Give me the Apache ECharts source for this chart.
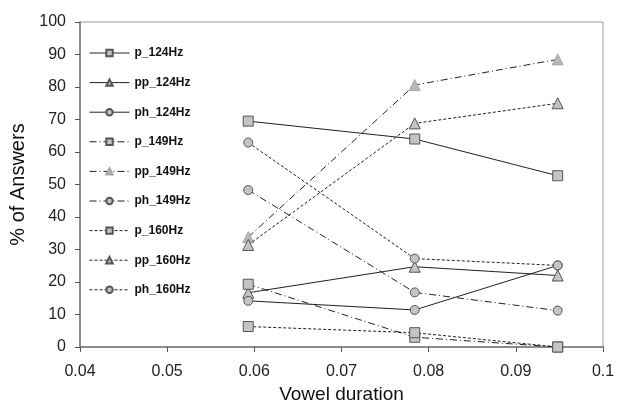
<!DOCTYPE html>
<html><head><meta charset="utf-8">
<script src="https://cdn.jsdelivr.net/npm/echarts@6/dist/echarts.min.js"></script>
<style>html,body{margin:0;padding:0;background:#fff}#c{width:622px;height:405px}</style>
</head><body><div id="c"></div>
<script>
// Vowel duration (x) for the three measured points
const durations = [0.0593, 0.0784, 0.0948];
const seriesNames = ['p_124Hz','pp_124Hz','ph_124Hz','p_149Hz','pp_149Hz','ph_149Hz','p_160Hz','pp_160Hz','ph_160Hz'];
const p_124Hz  = [69.5, 64.0, 52.7];
const pp_124Hz = [16.7, 24.7, 22.0];
const ph_124Hz = [14.2, 11.4, 25.1];
const p_149Hz  = [19.3, 3.0, 0.0];
const pp_149Hz = [33.8, 80.6, 88.5];
const ph_149Hz = [48.3, 16.8, 11.2];
const p_160Hz  = [6.3, 4.4, 0.0];
const pp_160Hz = [31.4, 68.8, 75.0];
const ph_160Hz = [62.9, 27.2, 25.1];
const xTicks = [0.04, 0.05, 0.06, 0.07, 0.08, 0.09, 0.1];
const yTicks = [0, 10, 20, 30, 40, 50, 60, 70, 80, 90, 100];

const values = [p_124Hz, pp_124Hz, ph_124Hz, p_149Hz, pp_149Hz, ph_149Hz, p_160Hz, pp_160Hz, ph_160Hz];

const FONT = '"Liberation Sans", Arial, sans-serif';
const dashDot = [7, 3, 1, 3];
const shortDash = [3, 2];
const lineTypes = ['solid','solid','solid', dashDot, dashDot, dashDot, shortDash, shortDash, shortDash];
const symbols = ['rect','triangle','circle','rect','triangle','circle','rect','triangle','circle'];
const symSizes = {rect: 10, triangle: 11, circle: 9};

const series = seriesNames.map((name, i) => {
  const light = name === 'pp_149Hz';
  return {
    name: name,
    type: 'line',
    data: durations.map((x, j) => [x, values[i][j]]),
    symbol: symbols[i],
    symbolSize: symSizes[symbols[i]],
    showAllSymbol: true,
    lineStyle: {color: '#222', width: 1, type: lineTypes[i]},
    itemStyle: {color: light ? '#b8b8b8' : '#c4c4c4', borderColor: light ? '#a8a8a8' : '#555', borderWidth: 1, opacity: 1},
    emphasis: {disabled: true},
    animation: false,
    z: light ? 1 : 2
  };
});

const chart = echarts.init(document.getElementById('c'), null, {renderer: 'canvas'});
chart.setOption({
  backgroundColor: '#fff',
  animation: false,
  grid: {left: 80, right: 19, top: 22, bottom: 58, show: true, borderColor: '#999', borderWidth: 1,
    containLabel: false, outerBoundsMode: 'none'},
  legend: {
    orient: 'vertical', left: 89, top: 46, padding: 0,
    itemWidth: 40, itemHeight: 8, itemGap: 15.6,
    data: seriesNames,
    lineStyle: {width: 1},
    textStyle: {fontFamily: FONT, fontWeight: 'bold', fontSize: 12, color: '#111', lineHeight: 14}
  },
  xAxis: {
    type: 'value', min: xTicks[0], max: xTicks[xTicks.length - 1], interval: 0.01,
    name: 'Vowel duration', nameLocation: 'middle', nameGap: 38,
    nameTextStyle: {fontFamily: FONT, fontSize: 19, color: '#111'},
    axisLine: {show: true, lineStyle: {color: '#777', width: 1.5}},
    axisTick: {show: true, inside: false, length: 5, lineStyle: {color: '#555'}},
    axisLabel: {fontFamily: FONT, fontSize: 16, color: '#222', margin: 17,
      formatter: v => String(+v.toFixed(2))},
    splitLine: {show: false}
  },
  yAxis: {
    type: 'value', min: yTicks[0], max: yTicks[yTicks.length - 1], interval: 10,
    name: '% of Answers', nameLocation: 'middle', nameGap: 49,
    nameTextStyle: {fontFamily: FONT, fontSize: 20, color: '#111'},
    axisLine: {show: true, lineStyle: {color: '#777', width: 1.5}},
    axisTick: {show: true, inside: false, length: 5, lineStyle: {color: '#555'}},
    axisLabel: {fontFamily: FONT, fontSize: 16, color: '#222', margin: 14},
    splitLine: {show: false}
  },
  series: series
});
</script></body></html>
